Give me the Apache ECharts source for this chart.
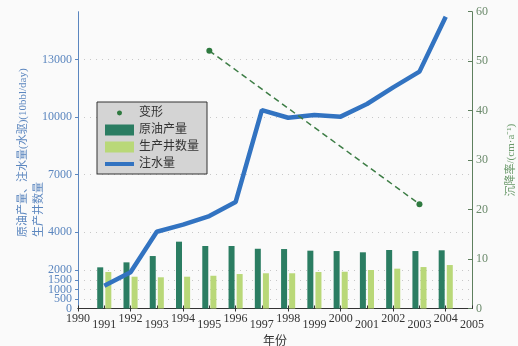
<!DOCTYPE html>
<html><head><meta charset="utf-8">
<script src="https://cdn.jsdelivr.net/npm/echarts@6/dist/echarts.min.js"></script>
<style>html,body{margin:0;padding:0;background:#fafafa;}#c{width:518px;height:346px;}</style>
</head><body><div id="c"></div>
<script>
const years = ['1990','1991','1992','1993','1994','1995','1996','1997','1998','1999','2000','2001','2002','2003','2004','2005'];
const crudeOil = [null, 2150, 2410, 2740, 3490, 3265, 3265, 3120, 3105, 3020, 3000, 2935, 3055, 3000, 3040, null];
const wellCount = [null, 1905, 1660, 1630, 1660, 1710, 1800, 1840, 1840, 1905, 1920, 2010, 2080, 2165, 2270, null];
const waterInjection = [null, 1190, 1890, 4010, 4380, 4830, 5560, 10360, 9960, 10100, 10020, 10680, 11550, 12370, 15240, null];
const deformation = [null, null, null, null, null, 52.1, null, null, null, null, null, null, null, 21.1, null, null];
const leftTicks = [0, 500, 1000, 1500, 2000, 4000, 7000, 10000, 13000];
const leftZeroTick = [0];

const SERIF = "'Liberation Serif','Noto Sans CJK SC',serif";
const chart = echarts.init(document.getElementById('c'));
chart.setOption({
  backgroundColor: '#fafafa',
  animation: false,
  textStyle: {fontFamily: SERIF},
  grid: {left: 78, right: 46, top: 11.7, bottom: 37.5, outerBoundsMode: 'none', containLabel: false},
  legend: {
    orient: 'vertical', left: 97, top: 102,
    backgroundColor: '#d4d4d4', borderColor: '#333', borderWidth: 1,
    padding: [5, 8, 4, 8], itemWidth: 29, itemHeight: 11, itemGap: 5,
    textStyle: {fontFamily: SERIF, fontSize: 12, color: '#333'},
    data: [
      {name: '变形', icon: 'path://M0,0L0.01,0M29,11L29.01,11M12,5.5a2.5,2.5 0 1,0 5,0a2.5,2.5 0 1,0 -5,0Z'},
      {name: '原油产量', icon: 'rect'},
      {name: '生产井数量', icon: 'rect'},
      {name: '注水量', icon: 'path://M0,0L0.01,0M29,11L29.01,11M0,3.5L29,3.5L29,7.5L0,7.5Z'}
    ]
  },
  xAxis: [{
    type: 'category', data: years, boundaryGap: false,
    name: '年份', nameLocation: 'middle', nameGap: 24,
    nameTextStyle: {fontSize: 12, color: '#333', fontFamily: SERIF},
    axisLine: {lineStyle: {color: '#333'}},
    axisTick: {inside: true, length: 3, alignWithLabel: true, lineStyle: {color: '#333'}},
    axisLabel: {
      interval: 0, hideOverlap: false, margin: 4, color: '#333', fontSize: 12,
      formatter: (v, i) => (i % 2 ? '{b|' + v + '}' : '{a|' + v + '}'),
      rich: {a: {fontSize: 12, fontFamily: SERIF, color: '#333'}, b: {fontSize: 12, fontFamily: SERIF, color: '#333', padding: [6, 0, 0, 0]}}
    },
    splitLine: {show: false}
  }, {
    type: 'category', data: years, boundaryGap: false, position: 'top',
    axisLine: {lineStyle: {color: '#333'}},
    axisTick: {inside: true, length: 3, lineStyle: {color: '#333'}},
    axisLabel: {show: false}, splitLine: {show: false}
  }],
  yAxis: [{
    type: 'value', min: 0, max: 15500, position: 'left',
    axisLine: {show: true, lineStyle: {color: '#5b86bf'}},
    axisTick: {show: true, length: 3, customValues: leftTicks, lineStyle: {color: '#5b86bf'}},
    axisLabel: {customValues: leftTicks, hideOverlap: false, color: '#5b86bf', fontSize: 12, margin: 6, fontFamily: SERIF,
      formatter: v => String(v)},
    splitLine: {show: true, lineStyle: {color: '#c8c8c8', type: [1, 5]}}
  }, {
    type: 'value', min: 0, max: 60, interval: 10, position: 'right',
    name: '沉降率/(cm·a⁻¹)', nameLocation: 'middle', nameRotate: 90, nameGap: 34,
    nameTextStyle: {color: '#6b9a6b', fontSize: 11, fontFamily: SERIF},
    axisLine: {show: true, lineStyle: {color: '#5e7f5e'}},
    axisTick: {show: true, inside: true, length: 4, lineStyle: {color: '#5e7f5e'}},
    axisLabel: {color: '#6b8a6b', fontSize: 12, margin: 4, fontFamily: SERIF},
    splitLine: {show: false}
  }, {
    type: 'value', min: 0, max: 15500, position: 'left', offset: 0,
    axisLine: {show: false}, axisTick: {show: false}, splitLine: {show: false},
    axisLabel: {customValues: leftZeroTick, showMinLabel: true, color: '#5b86bf', fontSize: 12, margin: 6, fontFamily: SERIF,
      formatter: v => String(v)}
  }],
  graphic: [{
    type: 'text', x: 31, y: 237, rotation: Math.PI / 2,
    style: {
      text: '原油产量、注水量(水驱)(10bbl/day)\n生产井数量',
      fill: '#5b86bf', font: "11px 'Liberation Serif','Noto Sans CJK SC',serif",
      align: 'left', verticalAlign: 'middle', lineHeight: 16
    }
  }],
  series: [
    {name: '原油产量', type: 'bar', data: crudeOil, barWidth: 6, barGap: '35%', itemStyle: {color: '#2b7d62'}, z: 2},
    {name: '生产井数量', type: 'bar', data: wellCount, barWidth: 6, itemStyle: {color: '#b9d878'}, z: 2},
    {name: '注水量', type: 'line', data: waterInjection, symbol: 'none', lineStyle: {color: '#3273c1', width: 4.5}, itemStyle: {color: '#3273c1'}, z: 3},
    {name: '变形', type: 'line', yAxisIndex: 1, data: deformation, connectNulls: true, symbol: 'circle', symbolSize: 6,
     lineStyle: {color: '#3d7d45', width: 1.5, type: [6, 4]}, itemStyle: {color: '#2f7a40'}, z: 4}
  ]
});
</script></body></html>
